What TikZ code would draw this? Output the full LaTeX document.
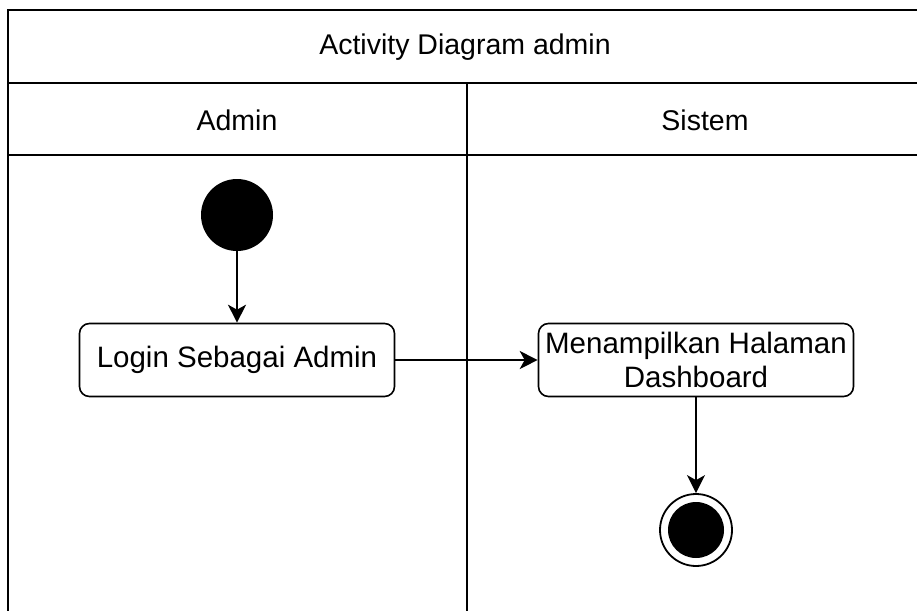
\documentclass[tikz,border=0pt]{standalone}
\usepackage{fontspec}
\setmainfont{Liberation Sans}
\usetikzlibrary{arrows.meta}
\begin{document}
\begin{tikzpicture}[x=1pt,y=-1pt,
  lane/.style={draw=black,line width=2pt},
  actbox/.style={draw=black,line width=1.6pt,rounded corners=10pt,fill=white,
    minimum width=315pt,minimum height=73pt,align=center,inner sep=0pt,
    font=\fontsize{29.5}{34}\selectfont},
  lbl/.style={font=\fontsize{28.5}{33}\selectfont},
  flow/.style={line width=1.6pt,-{Stealth[length=18pt,width=18pt,inset=5pt]}}]
\useasboundingbox (0,0) rectangle (917,610);
% swimlane frame
\draw[lane] (917,10) -- (8,10) -- (8,612);
\draw[lane] (8,83) -- (917,83);
\draw[lane] (8,155) -- (917,155);
\draw[lane] (467,83) -- (467,612);
% headings
\node[lbl] (title) at (465,47) {Activity Diagram admin};
\node[lbl] (admin) at (237,120) {Admin};
\node[lbl] (sistem) at (705,120) {Sistem};
% activity nodes
\node[circle,fill=black,minimum size=72pt,inner sep=0pt] (start) at (237,215) {};
\node[actbox] (login) at (237,360) {Login Sebagai Admin};
\node[actbox] (dash) at (696,360) {Menampilkan Halaman\\Dashboard};
\node[circle,draw=black,line width=1.8pt,minimum size=72pt,inner sep=0pt] (final) at (696,530) {};
\node[circle,fill=black,minimum size=56pt,inner sep=0pt] (finaldot) at (final.center) {};
% flows
\draw[flow] (start) -- (login);
\draw[flow] (login) -- (dash);
\draw[flow] (dash) -- (final);
\end{tikzpicture}
\end{document}
